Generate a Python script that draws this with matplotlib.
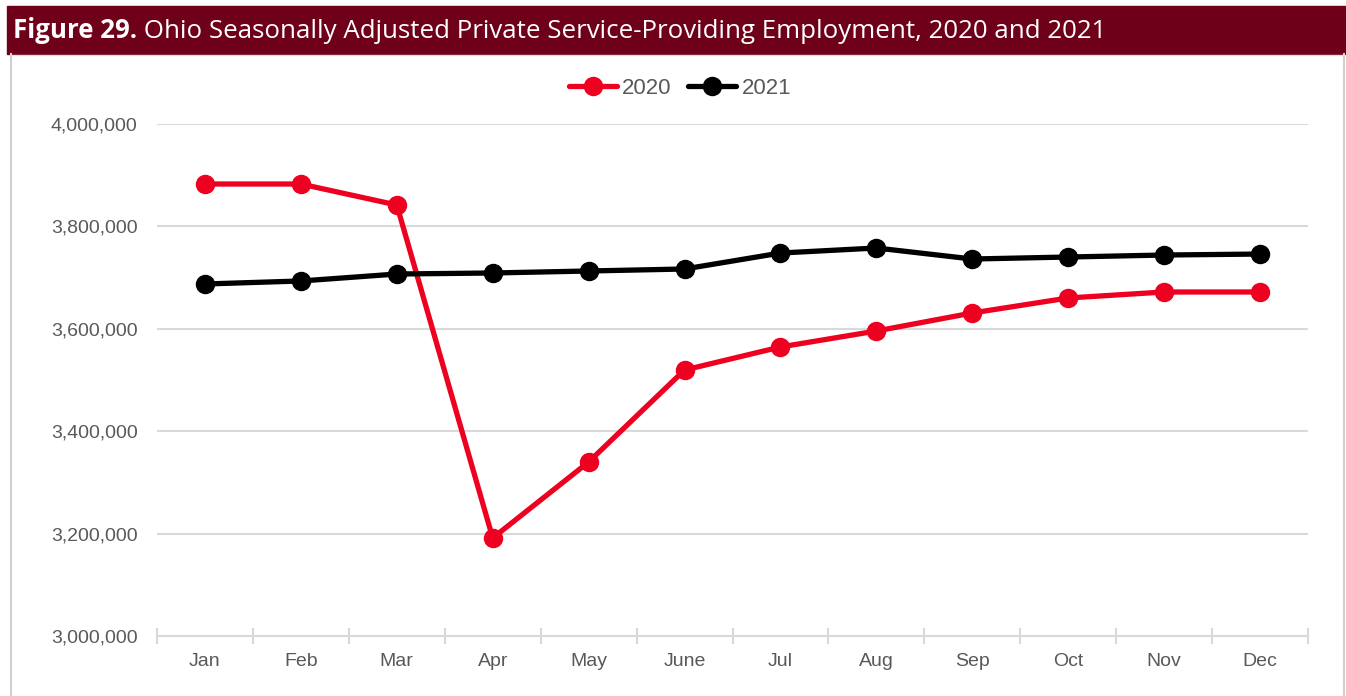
import numpy as np
import matplotlib
matplotlib.use("Agg")
from matplotlib import pyplot as plt
from matplotlib.patches import Rectangle
from matplotlib.lines import Line2D
from matplotlib.ticker import FuncFormatter, FixedLocator

months = ["Jan", "Feb", "Mar", "Apr", "May", "June", "Jul", "Aug", "Sep", "Oct", "Nov", "Dec"]
emp_2020 = [3882800, 3882800, 3841800, 3191400, 3339800, 3519500,
            3564500, 3595700, 3630900, 3660200, 3671900, 3671900]
emp_2021 = [3687500, 3693400, 3707000, 3709000, 3712900, 3716800,
            3748000, 3757800, 3736300, 3740200, 3744100, 3746000]
title_bold = "Figure 29."
title_rest = " Ohio Seasonally Adjusted Private Service-Providing Employment, 2020 and 2021"

RED = "#EE0020"
BAR = "#6E0019"
GRAY_TXT = "#595959"
GRID = "#D9D9D9"

fig = plt.figure(figsize=(13.46, 6.96), dpi=100)
W, H = 1346, 696

# title bar
fig.patches.append(Rectangle((7 / W, 1 - 54 / H), 1 - 7 / W, 48 / H,
                             transform=fig.transFigure, color=BAR, zorder=0))
# light frame around the chart body
fig.add_artist(Line2D([11 / W, 11 / W], [0, 1 - 54 / H], transform=fig.transFigure,
                      color="#D0D0D0", lw=1.5))
fig.add_artist(Line2D([1344 / W, 1344 / W], [0, 1 - 54 / H], transform=fig.transFigure,
                      color="#D0D0D0", lw=1.5))
fig.add_artist(Line2D([11 / W, 1344 / W], [1 - 55 / H, 1 - 55 / H], transform=fig.transFigure,
                      color="#E0E0E0", lw=1.0))

t1 = fig.text(13 / W, 1 - 31 / H, title_bold, color="white", fontsize=18.6,
              fontweight="bold", family="Open Sans", va="center", ha="left")
fig.canvas.draw()
bb = t1.get_window_extent()
fig.text(bb.x1 / W, 1 - 31 / H, title_rest, color="white", fontsize=18.6,
         family="Open Sans", va="center", ha="left")

ax = fig.add_axes([157 / W, 1 - 636 / H, (1308 - 157) / W, (636 - 124) / H])
x = np.arange(len(months))
ax.plot(x, emp_2020, color=RED, lw=3.8, marker="o", ms=13, label="2020",
        solid_capstyle="round", zorder=3)
ax.plot(x, emp_2021, color="black", lw=3.8, marker="o", ms=13, label="2021",
        solid_capstyle="round", zorder=4)

ax.set_xlim(-0.5, 11.5)
ax.set_ylim(3000000, 4000000)
ax.set_yticks(np.arange(3000000, 4000001, 200000))
ax.yaxis.set_major_formatter(FuncFormatter(lambda v, p: f"{int(v):,}"))
ax.grid(axis="y", color=GRID, lw=1.5)
ax.set_axisbelow(True)
for s in ["top", "right", "left"]:
    ax.spines[s].set_visible(False)
ax.spines["bottom"].set_color(GRID)
ax.spines["bottom"].set_linewidth(1.5)

ax.set_xticks(x)
ax.set_xticklabels(months)
ax.xaxis.set_minor_locator(FixedLocator(np.arange(-0.5, 12, 1)))
ax.tick_params(axis="x", which="major", length=0, pad=12, labelsize=14, labelcolor=GRAY_TXT)
ax.tick_params(axis="x", which="minor", direction="inout", length=12, width=1.5, color=GRID)
ax.tick_params(axis="y", length=0, pad=14, labelsize=14, labelcolor=GRAY_TXT)
for lbl in ax.get_xticklabels() + ax.get_yticklabels():
    lbl.set_family("Liberation Sans")

leg = ax.legend(loc="center", bbox_to_anchor=((680 - 157) / 1151, 1 + (124 - 88) / 512), ncol=2,
                frameon=False, handlelength=2.16, handletextpad=0.22, columnspacing=0.77,
                borderpad=0, prop={"family": "Liberation Sans", "size": 16})
for t in leg.get_texts():
    t.set_color(GRAY_TXT)

fig.savefig("out.png", dpi=100)
